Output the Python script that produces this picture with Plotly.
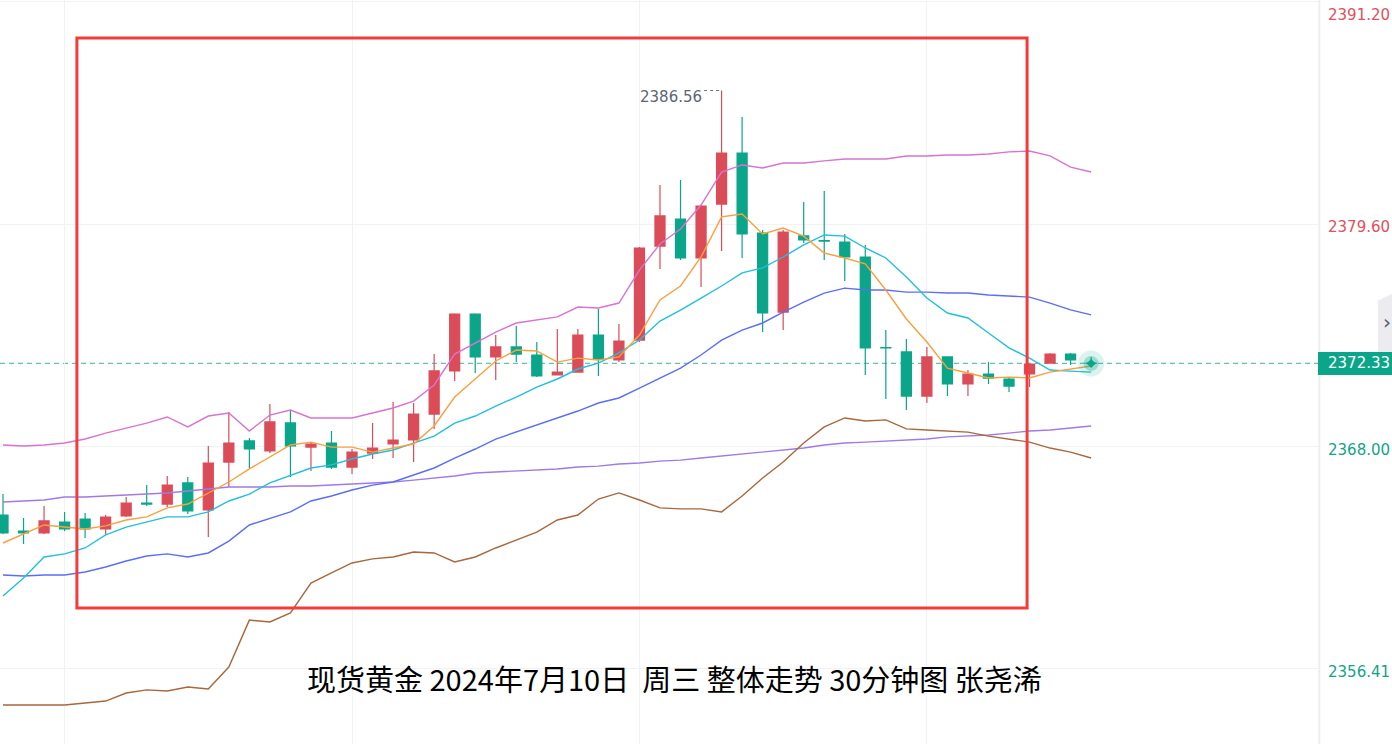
import plotly.graph_objects as go

# ---------------- data ----------------
opens = [2364.43, 2363.59, 2363.49, 2364.06, 2364.22, 2363.70, 2364.38, 2365.05, 2365.00, 2366.10,
         2364.69, 2367.19, 2368.29, 2367.77, 2369.23, 2367.97, 2368.18, 2366.93, 2367.66, 2368.13,
         2368.34, 2369.69, 2371.94, 2374.91, 2372.67, 2373.19, 2372.77, 2371.73, 2371.88, 2373.81,
         2372.51, 2373.55, 2378.45, 2379.86, 2377.83, 2380.64, 2383.30, 2379.13, 2375.01, 2378.98,
         2378.74, 2378.66, 2377.88, 2373.16, 2372.93, 2370.63, 2372.67, 2371.26, 2371.78, 2371.52,
         2371.78, 2372.35, 2372.82, 2372.35]
highs = [2365.52, 2364.27, 2364.90, 2364.58, 2364.53, 2364.43, 2365.37, 2365.99, 2366.46, 2366.41,
         2368.03, 2369.80, 2368.44, 2370.22, 2369.85, 2368.24, 2368.81, 2367.87, 2369.23, 2370.32,
         2370.27, 2372.82, 2374.95, 2374.95, 2373.81, 2374.28, 2373.45, 2374.13, 2374.13, 2375.17,
         2374.39, 2378.40, 2381.63, 2381.90, 2380.60, 2386.56, 2385.18, 2379.29, 2379.29, 2380.75,
         2381.32, 2379.08, 2378.51, 2374.07, 2373.61, 2373.19, 2372.70, 2371.99, 2372.41, 2371.62,
         2372.30, 2372.88, 2372.88, 2372.67]
lows = [2363.44, 2362.92, 2363.44, 2363.59, 2363.23, 2363.39, 2364.33, 2364.90, 2364.85, 2364.48,
        2363.28, 2365.89, 2366.88, 2367.66, 2366.41, 2366.72, 2366.83, 2366.57, 2367.35, 2367.40,
        2367.19, 2368.91, 2371.42, 2371.83, 2371.47, 2372.41, 2371.63, 2371.70, 2371.85, 2371.68,
        2372.41, 2373.45, 2377.25, 2377.72, 2376.32, 2378.19, 2377.83, 2373.97, 2374.07, 2378.61,
        2377.72, 2376.63, 2371.73, 2370.48, 2369.90, 2370.27, 2370.63, 2370.63, 2371.26, 2370.84,
        2371.10, 2372.35, 2372.25, 2372.30]
closes = [2363.49, 2363.49, 2364.12, 2363.70, 2363.70, 2364.32, 2365.05, 2365.00, 2365.99, 2364.64,
          2367.14, 2368.18, 2367.87, 2369.28, 2368.03, 2368.13, 2366.93, 2367.71, 2367.92, 2368.34,
          2369.69, 2371.94, 2374.91, 2372.67, 2373.19, 2372.82, 2371.68, 2371.88, 2373.81, 2372.56,
          2373.50, 2378.35, 2380.02, 2377.83, 2380.54, 2383.30, 2379.08, 2374.96, 2379.18, 2378.77,
          2378.71, 2377.88, 2373.14, 2373.14, 2370.63, 2372.67, 2371.26, 2371.78, 2371.57, 2371.15,
          2372.30, 2372.82, 2372.51, 2372.33]

ma_orange = [2362.97, 2363.44, 2363.91, 2363.80, 2363.70, 2363.86, 2364.17, 2364.33, 2364.80, 2365.00,
             2365.58, 2366.15, 2366.83, 2367.45, 2368.08, 2368.23, 2367.97, 2367.97, 2367.71, 2367.92,
             2368.13, 2369.07, 2370.58, 2371.52, 2372.46, 2373.03, 2372.98, 2372.40, 2372.61, 2372.51,
             2372.67, 2373.81, 2375.64, 2376.37, 2377.88, 2379.97, 2380.12, 2379.08, 2379.39, 2378.97,
             2378.09, 2377.83, 2377.52, 2376.16, 2374.65, 2373.45, 2372.09, 2371.83, 2371.57, 2371.62,
             2371.57, 2371.88, 2372.04, 2372.20]
ma_cyan = [2360.21, 2361.14, 2362.24, 2362.40, 2362.71, 2363.39, 2363.80, 2364.06, 2364.33, 2364.33,
           2364.59, 2365.16, 2365.52, 2366.10, 2366.51, 2366.88, 2367.04, 2367.35, 2367.61, 2367.82,
           2368.18, 2368.54, 2369.22, 2369.59, 2370.11, 2370.58, 2371.10, 2371.52, 2372.04, 2372.35,
           2372.88, 2373.55, 2374.54, 2375.11, 2375.74, 2376.37, 2377.05, 2377.31, 2377.88, 2378.51,
           2379.03, 2378.97, 2378.35, 2377.83, 2376.84, 2375.74, 2374.96, 2374.70, 2373.92, 2373.14,
           2372.61, 2371.99, 2371.93, 2371.88]
boll_mid = [2361.30, 2361.25, 2361.30, 2361.30, 2361.46, 2361.72, 2362.03, 2362.29, 2362.40, 2362.24,
            2362.45, 2363.07, 2363.91, 2364.27, 2364.59, 2365.16, 2365.42, 2365.73, 2365.99, 2366.15,
            2366.51, 2366.88, 2367.40, 2367.87, 2368.39, 2368.76, 2369.12, 2369.49, 2369.85, 2370.27,
            2370.53, 2371.05, 2371.57, 2372.09, 2372.77, 2373.55, 2374.07, 2374.44, 2375.01, 2375.53,
            2376.00, 2376.26, 2376.16, 2376.16, 2376.05, 2376.05, 2376.00, 2376.00, 2375.90, 2375.85,
            2375.79, 2375.48, 2375.12, 2374.86]
ma_purple = [2365.11, 2365.16, 2365.21, 2365.37, 2365.37, 2365.42, 2365.47, 2365.52, 2365.58, 2365.68,
             2365.78, 2365.89, 2365.89, 2365.89, 2365.94, 2365.94, 2365.99, 2366.05, 2366.10, 2366.15,
             2366.25, 2366.36, 2366.46, 2366.62, 2366.67, 2366.72, 2366.77, 2366.83, 2366.93, 2366.98,
             2367.09, 2367.14, 2367.24, 2367.29, 2367.40, 2367.50, 2367.61, 2367.71, 2367.82, 2367.92,
             2368.08, 2368.18, 2368.23, 2368.29, 2368.34, 2368.39, 2368.50, 2368.54, 2368.60, 2368.70,
             2368.81, 2368.86, 2368.96, 2369.07]
boll_up = [2368.08, 2368.03, 2368.08, 2368.18, 2368.39, 2368.70, 2368.96, 2369.22, 2369.54, 2369.02,
           2369.59, 2369.75, 2368.81, 2369.64, 2369.90, 2369.49, 2369.49, 2369.49, 2369.75, 2370.01,
           2370.37, 2371.21, 2372.82, 2373.40, 2373.97, 2374.44, 2374.60, 2374.76, 2375.27, 2375.22,
           2375.48, 2377.20, 2378.56, 2379.34, 2380.59, 2382.31, 2382.68, 2382.52, 2382.78, 2382.78,
           2382.89, 2382.99, 2382.99, 2382.99, 2383.15, 2383.15, 2383.20, 2383.20, 2383.25, 2383.36,
           2383.41, 2383.15, 2382.57, 2382.31]
boll_low = [2354.52, 2354.52, 2354.52, 2354.52, 2354.63, 2354.73, 2355.15, 2355.31, 2355.25, 2355.46,
            2355.36, 2356.50, 2358.95, 2358.85, 2359.32, 2360.88, 2361.41, 2361.93, 2362.14, 2362.24,
            2362.50, 2362.45, 2361.98, 2362.24, 2362.71, 2363.13, 2363.54, 2364.17, 2364.43, 2365.26,
            2365.58, 2365.21, 2364.80, 2364.75, 2364.75, 2364.59, 2365.42, 2366.36, 2367.19, 2368.18,
            2369.02, 2369.49, 2369.33, 2369.39, 2368.92, 2368.86, 2368.81, 2368.75, 2368.54, 2368.39,
            2368.23, 2367.92, 2367.71, 2367.40]

axis_labels = ["2391.20", "2379.60", "2368.00", "2356.41"]
axis_values = [2391.20, 2379.60, 2368.00, 2356.41]
last_price = 2372.33
peak_label = "2386.56"
peak_value = 2386.56
peak_index = 35
title_text = "现货黄金 2024年7月10日\u00a0\u00a0周三 整体走势 30分钟图 张尧浠"

# ---------------- styling ----------------
RED = "#DB4C59"
GREEN = "#0BA68A"
LABEL_RED = "#E0505E"
LABEL_GREEN = "#12A487"
GRID = "#F1F2F5"

x = list(range(len(opens)))

fig = go.Figure()
fig.add_trace(go.Candlestick(
    x=x, open=opens, high=highs, low=lows, close=closes,
    increasing=dict(line=dict(color=RED, width=1.2), fillcolor=RED),
    decreasing=dict(line=dict(color=GREEN, width=1.2), fillcolor=GREEN),
    whiskerwidth=0, showlegend=False, hoverinfo="skip"))

lines = [
    (ma_purple, "#A07AE6"),
    (boll_low, "#A8673C"),
    (boll_up, "#D873CF"),
    (boll_mid, "#5C6EF2"),
    (ma_cyan, "#22BFDD"),
    (ma_orange, "#F9A03F"),
]
for vals, col in lines:
    fig.add_trace(go.Scatter(x=x, y=vals, mode="lines", line=dict(color=col, width=1.4),
                             showlegend=False, hoverinfo="skip"))

# glowing last-price point
fig.add_trace(go.Scatter(x=[x[-1]], y=[last_price], mode="markers",
                         marker=dict(size=26, color="rgba(11,166,138,0.15)"),
                         showlegend=False, hoverinfo="skip"))
fig.add_trace(go.Scatter(x=[x[-1]], y=[last_price], mode="markers",
                         marker=dict(size=15, color="rgba(11,166,138,0.30)"),
                         showlegend=False, hoverinfo="skip"))
fig.add_trace(go.Scatter(x=[x[-1]], y=[last_price], mode="markers",
                         marker=dict(size=7, color=GREEN, symbol="diamond"),
                         showlegend=False, hoverinfo="skip"))

shapes = []
shapes.append(dict(type="line", xref="paper", yref="y", x0=0, x1=1, y0=last_price, y1=last_price,
                   line=dict(color="#5FC4B0", width=1.2, dash="5px,4px"), layer="below"))
shapes.append(dict(type="line", xref="paper", yref="paper", x0=1.001, x1=1.001, y0=0, y1=1,
                   line=dict(color="#ECEEF2", width=2)))
shapes.append(dict(type="path", xref="paper", yref="y",
                   path="M 1.0455,2371.9 L 1.0455,2375.6 L 1.057,2376.0 L 1.057,2371.9 Z",
                   fillcolor="#EBEBF0", line=dict(width=0)))
shapes.append(dict(type="rect", xref="paper", yref="y", x0=1.0, x1=1.057,
                   y0=last_price - 0.60, y1=last_price + 0.60,
                   fillcolor=GREEN, line=dict(width=0)))
shapes.append(dict(type="line", xref="x", yref="y", x0=peak_index - 0.85, x1=peak_index - 0.1,
                   y0=peak_value, y1=peak_value, line=dict(color="#6B7080", width=1, dash="dot")))
shapes.append(dict(type="rect", xref="x", yref="y", x0=3.6, x1=49.88, y0=2359.58, y1=2389.30,
                   line=dict(color="#F23B3B", width=3), fillcolor="rgba(0,0,0,0)"))

annotations = []
label_font = "DejaVu Sans, Verdana, sans-serif"
for lab, val in zip(axis_labels, axis_values):
    col = LABEL_RED if val > last_price else LABEL_GREEN
    yy = val if val < 2390 else 2390.50
    annotations.append(dict(xref="paper", yref="y", x=1.0, y=yy, xanchor="left", yanchor="middle",
                            xshift=8, yshift=-3 if val < 2390 else 0, text=lab, showarrow=False,
                            font=dict(family=label_font, size=15, color=col)))
annotations.append(dict(xref="paper", yref="y", x=1.0, y=last_price, xanchor="left", yanchor="middle",
                        xshift=8, text=f"{last_price:.2f}", showarrow=False,
                        font=dict(family=label_font, size=15, color="white")))
annotations.append(dict(xref="paper", yref="y", x=1.052, y=2374.5, xanchor="center", yanchor="middle",
                        text="›", showarrow=False, font=dict(family=label_font, size=20, color="#5A5E6A")))
annotations.append(dict(xref="x", yref="y", x=peak_index, y=peak_value, xanchor="right", yanchor="middle",
                        xshift=-18, yshift=-6, text=peak_label, showarrow=False,
                        font=dict(family=label_font, size=15, color="#5F6472")))
annotations.append(dict(xref="paper", yref="paper", x=0.5121, y=0.0887, xanchor="center", yanchor="middle",
                        text=title_text, showarrow=False,
                        font=dict(family="Noto Sans CJK SC", size=29, color="#000000")))

fig.update_layout(
    width=1392, height=744,
    margin=dict(l=0, r=74, t=0, b=0),
    paper_bgcolor="white", plot_bgcolor="white",
    showlegend=False, hovermode=False,
    shapes=shapes, annotations=annotations,
    xaxis=dict(range=[-0.146, 64.05], tickvals=[3, 17, 31, 45], showticklabels=False,
               showgrid=True, gridcolor=GRID, gridwidth=1, zeroline=False,
               rangeslider=dict(visible=False), fixedrange=True),
    yaxis=dict(range=[2352.49, 2391.28], tickvals=axis_values, showticklabels=False,
               showgrid=True, gridcolor=GRID, gridwidth=1, zeroline=False, fixedrange=True),
)

fig.write_html("out.html", config={"displayModeBar": False},
               post_script="document.body.style.margin='0';document.body.style.overflow='hidden';")
